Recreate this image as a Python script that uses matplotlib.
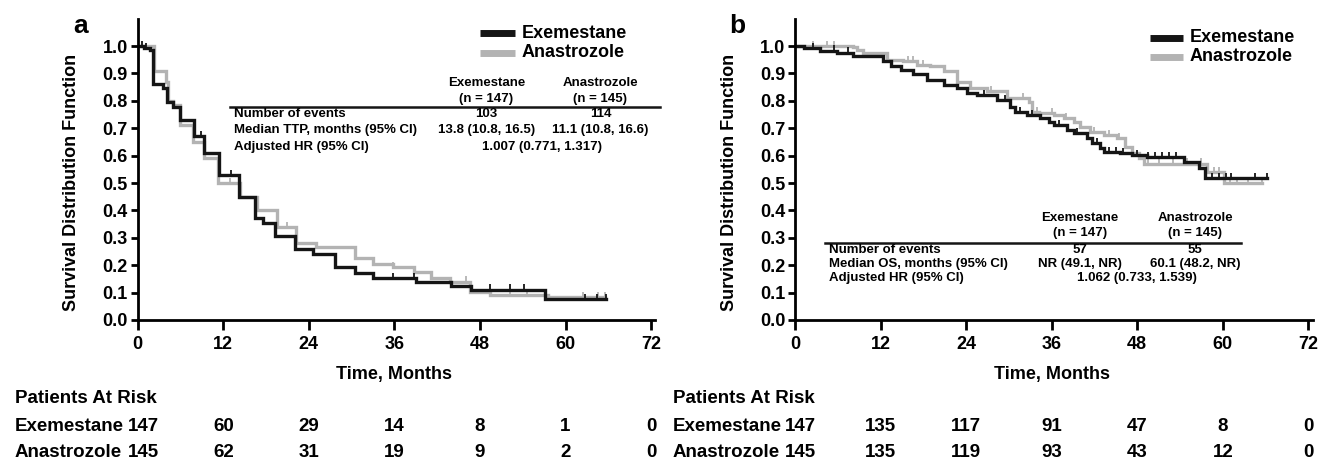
import numpy as np
import matplotlib
matplotlib.use("Agg")
import matplotlib.pyplot as plt
from matplotlib.transforms import blended_transform_factory

plt.rcParams['font.family'] = ['Liberation Sans', 'DejaVu Sans']
plt.rcParams['font.weight'] = 'bold'

# ---- panel a: time to progression (step points)
ttp_t_exe = [0, 0.9, 1.7, 2.2, 3.6, 4.1, 4.9, 6.0, 7.9, 9.3, 11.4, 14.2, 16.45, 17.6,
             19.3, 22.1, 24.6, 27.7, 30.5, 33.0, 39.1, 44.0, 46.8, 57.1, 65.7]
ttp_s_exe = [1.0, 0.993, 0.985, 0.861, 0.846, 0.797, 0.778, 0.73, 0.67, 0.61, 0.53, 0.45,
             0.371, 0.355, 0.307, 0.258, 0.241, 0.192, 0.173, 0.152, 0.140, 0.124, 0.111,
             0.077, 0.077]
ttp_c_exe = [0.6, 1.2, 8.9, 13.1, 35.8, 38.7, 49.4, 52.2, 54.2, 62.7, 64.4, 65.7]
ttp_t_ana = [0, 2.3, 3.9, 4.2, 4.9, 6.0, 7.7, 9.3, 11.2, 14.3, 16.7, 19.5, 22.2, 25.0,
             30.5, 33.0, 35.8, 38.7, 41.2, 43.8, 46.6, 49.4, 57.6, 65.5]
ttp_s_ana = [1.0, 0.91, 0.87, 0.80, 0.785, 0.71, 0.65, 0.59, 0.50, 0.45, 0.40, 0.34, 0.28,
             0.265, 0.225, 0.204, 0.192, 0.176, 0.155, 0.140, 0.104, 0.092, 0.085, 0.085]
ttp_c_ana = [13.0, 20.9, 35.8, 38.7, 46.0, 52.2, 54.6, 62.5, 64.6, 65.5]

# ---- panel b: overall survival
os_t_exe = [0, 1.2, 3.5, 5.9, 8.2, 12.4, 13.4, 14.8, 16.6, 18.5, 20.9, 22.7, 24.1, 25.5,
            28.3, 30.2, 30.9, 32.5, 34.4, 35.6, 36.3, 38.1, 39.1, 40.9, 41.7, 42.8, 43.3,
            45.6, 47.3, 49.4, 54.5, 56.6, 57.5, 66.2]
os_s_exe = [1.0, 0.991, 0.983, 0.976, 0.962, 0.944, 0.926, 0.914, 0.896, 0.877, 0.859,
            0.847, 0.83, 0.821, 0.803, 0.778, 0.76, 0.748, 0.736, 0.724, 0.711, 0.693,
            0.681, 0.663, 0.645, 0.627, 0.614, 0.608, 0.602, 0.596, 0.577, 0.553, 0.517,
            0.517]
os_c_exe = [2.5, 5.5, 7.5, 26.5, 29.5, 31.5, 33.3, 37.0, 39.5, 41.0, 42.3, 44.0, 45.0,
            46.0, 48.0, 49.5, 50.5, 51.5, 52.5, 53.5, 58.5, 59.5, 60.5, 61.2, 64.5, 66.2]
os_t_ana = [0, 8.2, 8.7, 9.6, 12.9, 15.2, 17.1, 19.0, 20.9, 22.7, 24.6, 26.9, 29.7, 32.8,
            33.2, 34.2, 36.3, 37.7, 39.1, 40.0, 41.4, 43.3, 45.2, 46.3, 47.3, 48.2, 48.9,
            57.8, 60.1, 65.5]
os_s_ana = [1.0, 0.995, 0.985, 0.973, 0.95, 0.944, 0.93, 0.926, 0.908, 0.87, 0.847, 0.834,
            0.809, 0.797, 0.76, 0.754, 0.748, 0.736, 0.724, 0.705, 0.687, 0.675, 0.663,
            0.632, 0.608, 0.59, 0.571, 0.54, 0.499, 0.499]
os_c_ana = [2.5, 4.5, 5.5, 15.8, 16.5, 18.0, 27.5, 32.0, 34.0, 36.0, 38.0, 42.0, 44.0,
            45.5, 49.5, 51.0, 53.0, 55.0, 57.0, 58.7, 59.5, 61.0, 62.0, 63.5, 65.5]

arms = ["Exemestane", "Anastrozole"]
risk_times = [0, 12, 24, 36, 48, 60, 72]
risk_a = [[147, 60, 29, 14, 8, 1, 0], [145, 62, 31, 19, 9, 2, 0]]
risk_b = [[147, 135, 117, 91, 47, 8, 0], [145, 135, 119, 93, 43, 12, 0]]

tab_a = {"rows": ["Number of events", "Median TTP, months (95% CI)", "Adjusted HR (95% CI)"],
         "exe": ["103", "13.8 (10.8, 16.5)"], "ana": ["114", "11.1 (10.8, 16.6)"],
         "hr": "1.007 (0.771, 1.317)"}
tab_b = {"rows": ["Number of events", "Median OS, months (95% CI)", "Adjusted HR (95% CI)"],
         "exe": ["57", "NR (49.1, NR)"], "ana": ["55", "60.1 (48.2, NR)"],
         "hr": "1.062 (0.733, 1.539)"}
ns = ["(n = 147)", "(n = 145)"]

BLACK = "#151515"
GRAY = "#b3b3b3"
W, H = 1319, 461


def step_val(t, s, x):
    i = np.searchsorted(t, x, side="right") - 1
    return np.asarray(s)[i]


fig = plt.figure(figsize=(W / 100, H / 100), dpi=100)
ax_a = fig.add_axes([137.7 / W, 1 - 320 / H, 72.6 * 7.13 / W, 301.4 / H])
ax_b = fig.add_axes([795 / W, 1 - 320 / H, 72.6 * 7.13 / W, 301.4 / H])


def panel(ax, letter, curves, tab, tpos, leg, risk, lab_px):
    for t, s, c, col in curves[::-1]:
        ax.step(t, s, where="post", color=col, lw=2.4, solid_joinstyle="miter")
        ax.plot(c, step_val(t, s, c) + 0.008, ls="none", marker="|", ms=5,
                mew=1.3, color=col)
    ax.set_xlim(0, 72.6)
    ax.set_ylim(0, 1.1)
    ax.set_xticks(risk_times)
    ax.set_yticks(np.arange(0, 1.01, 0.1))
    ax.set_yticklabels([f"{v:.1f}" for v in np.arange(0, 1.01, 0.1)])
    for sp in ["top", "right"]:
        ax.spines[sp].set_visible(False)
    for sp in ["left", "bottom"]:
        ax.spines[sp].set_linewidth(2.0)
    ax.tick_params(axis="x", length=7.5, width=2.0, labelsize=13, pad=4)
    ax.tick_params(axis="y", length=5, width=2.0, labelsize=13, pad=2)
    ax.set_ylabel("Survival Distribution Function", fontsize=13, fontweight="bold")
    ax.yaxis.set_label_coords(-0.111, 0.455)
    ax.text(-0.111, 0.975, letter, transform=ax.transAxes, fontsize=19,
            fontweight="bold", ha="center", va="center")

    # legend
    lx0, lx1, ltx, ly = leg
    for k, col in enumerate([BLACK, GRAY]):
        ax.plot([lx0, lx1], [ly[k]] * 2, color=col, lw=5, clip_on=False,
                solid_capstyle="butt")
        ax.text(ltx, ly[k], arms[k], fontsize=13, fontweight="bold", va="center",
                ha="left")

    # summary table
    x0, x1, cx_e, cx_a, cx_hr, yl, yh, yr = tpos
    ax.plot([x0, x1], [yl, yl], color=BLACK, lw=1.8, clip_on=False)
    for k, cx in enumerate([cx_e, cx_a]):
        ax.text(cx, yh[0], arms[k], fontsize=9.5, ha="center", va="center")
        ax.text(cx, yh[1], ns[k], fontsize=9.5, ha="center", va="center")
    for r, lab in enumerate(tab["rows"]):
        ax.text(x0 + 0.6, yr[r], lab, fontsize=9.5, ha="left", va="center")
    for r in range(2):
        ax.text(cx_e, yr[r], tab["exe"][r], fontsize=9.5, ha="center", va="center")
        ax.text(cx_a, yr[r], tab["ana"][r], fontsize=9.5, ha="center", va="center")
    ax.text(cx_hr, yr[2], tab["hr"], fontsize=9.5, ha="center", va="center")

    # axis title and patients at risk
    tr = blended_transform_factory(ax.transData, fig.transFigure)
    fig.text(36, 1 - 374 / H, "Time, Months", transform=tr, fontsize=13,
             fontweight="bold", ha="center", va="center")
    fig.text(lab_px / W, 1 - 398 / H, "Patients At Risk", fontsize=13.5,
             fontweight="bold", ha="left", va="center")
    for k, row in enumerate(risk):
        yy = 1 - (426 + 26 * k) / H
        fig.text(lab_px / W, yy, arms[k], fontsize=13.5, fontweight="bold",
                 ha="left", va="center")
        for tm, n in zip(risk_times, row):
            xx = 0.8 if tm == 0 else tm
            fig.text(xx, yy, str(n), transform=tr, fontsize=13.5, fontweight="bold",
                     ha="center", va="center")


panel(ax_a, "a",
      [(ttp_t_exe, ttp_s_exe, ttp_c_exe, BLACK), (ttp_t_ana, ttp_s_ana, ttp_c_ana, GRAY)],
      tab_a, (12.9, 73.3, 48.9, 64.9, 56.7, 0.778, (0.866, 0.807), (0.751, 0.693, 0.632)),
      (48.0, 52.9, 53.9, (1.047, 0.975)), risk_a, 15)
panel(ax_b, "b",
      [(os_t_exe, os_s_exe, os_c_exe, BLACK), (os_t_ana, os_s_ana, os_c_ana, GRAY)],
      tab_b, (4.2, 62.5, 40.0, 56.1, 47.9, 0.281, (0.372, 0.318), (0.255, 0.204, 0.153)),
      (49.8, 54.4, 55.4, (1.03, 0.96)), risk_b, 673)

fig.savefig("out.png", dpi=100)
